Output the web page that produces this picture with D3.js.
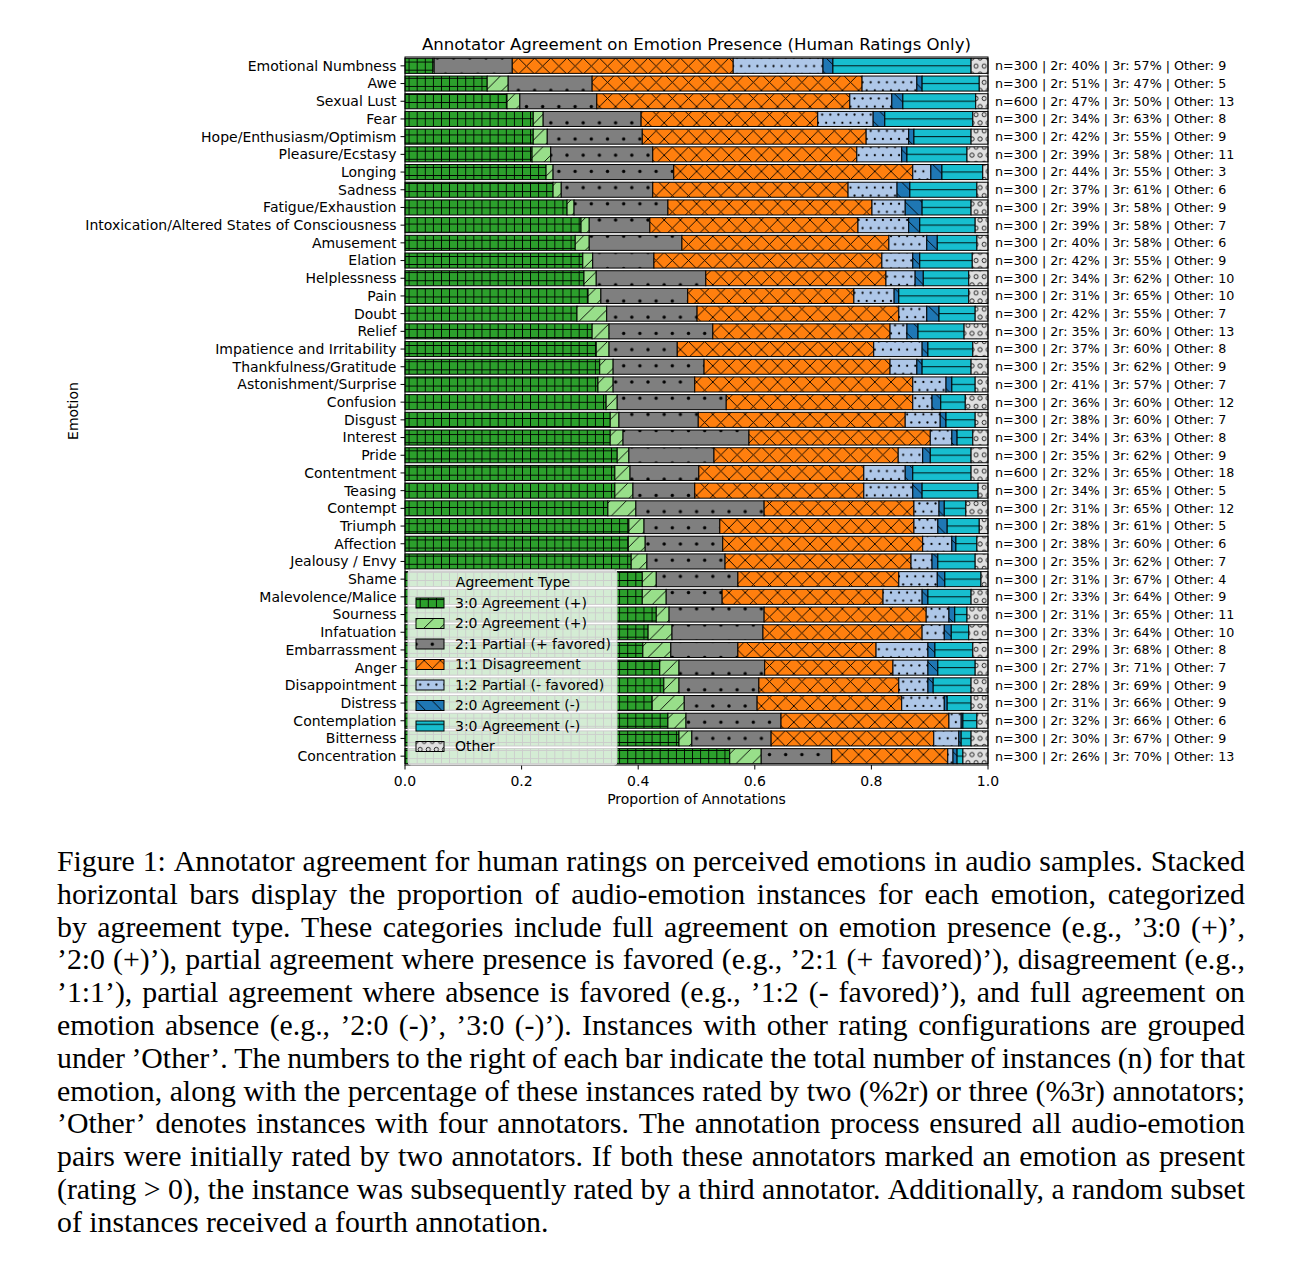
<!DOCTYPE html>
<html><head><meta charset="utf-8">
<script src="https://cdn.jsdelivr.net/npm/d3@7"></script>
<style>body{margin:0;background:#fff} svg{display:block}</style>
</head><body>
<svg id="chart" width="1301" height="1268"></svg>
<script>
const emotions = ["Emotional Numbness","Awe","Sexual Lust","Fear","Hope/Enthusiasm/Optimism","Pleasure/Ecstasy","Longing","Sadness","Fatigue/Exhaustion","Intoxication/Altered States of Consciousness","Amusement","Elation","Helplessness","Pain","Doubt","Relief","Impatience and Irritability","Thankfulness/Gratitude","Astonishment/Surprise","Confusion","Disgust","Interest","Pride","Contentment","Teasing","Contempt","Triumph","Affection","Jealousy / Envy","Shame","Malevolence/Malice","Sourness","Infatuation","Embarrassment","Anger","Disappointment","Distress","Contemplation","Bitterness","Concentration"];

const agreementTypes = ["3:0 Agreement (+)","2:0 Agreement (+)","2:1 Partial (+ favored)","1:1 Disagreement","1:2 Partial (- favored)","2:0 Agreement (-)","3:0 Agreement (-)","Other"];

const agree3Pos = [0.048,0.141,0.175,0.220,0.220,0.218,0.242,0.254,0.278,0.302,0.292,0.305,0.307,0.314,0.295,0.321,0.328,0.334,0.331,0.345,0.352,0.352,0.364,0.360,0.360,0.348,0.384,0.383,0.388,0.407,0.407,0.431,0.417,0.408,0.437,0.444,0.424,0.451,0.470,0.557];
const agree2Pos = [0.002,0.036,0.022,0.017,0.024,0.032,0.012,0.014,0.012,0.014,0.024,0.017,0.021,0.022,0.051,0.029,0.022,0.023,0.026,0.019,0.015,0.022,0.020,0.026,0.031,0.048,0.026,0.029,0.027,0.024,0.041,0.022,0.041,0.048,0.033,0.026,0.055,0.031,0.022,0.054];
const partialPos = [0.134,0.144,0.132,0.168,0.163,0.175,0.207,0.157,0.161,0.104,0.159,0.105,0.188,0.149,0.155,0.178,0.117,0.156,0.140,0.187,0.136,0.216,0.146,0.118,0.106,0.220,0.130,0.133,0.134,0.140,0.096,0.163,0.156,0.115,0.147,0.137,0.125,0.163,0.136,0.121];
const disagree = [0.379,0.463,0.434,0.303,0.384,0.350,0.410,0.335,0.350,0.357,0.355,0.391,0.309,0.285,0.346,0.304,0.337,0.319,0.374,0.320,0.355,0.311,0.316,0.283,0.290,0.257,0.333,0.343,0.319,0.276,0.276,0.278,0.273,0.237,0.220,0.240,0.248,0.288,0.279,0.199];
const partialNeg = [0.154,0.094,0.072,0.095,0.073,0.077,0.031,0.084,0.057,0.087,0.065,0.053,0.050,0.069,0.048,0.029,0.083,0.046,0.057,0.033,0.060,0.037,0.042,0.071,0.084,0.043,0.041,0.050,0.036,0.066,0.067,0.039,0.038,0.089,0.060,0.050,0.073,0.021,0.043,0.009];
const agree2Neg = [0.017,0.009,0.019,0.020,0.009,0.009,0.019,0.022,0.029,0.019,0.018,0.012,0.014,0.008,0.021,0.019,0.010,0.009,0.010,0.015,0.010,0.009,0.013,0.013,0.016,0.009,0.016,0.007,0.010,0.013,0.010,0.010,0.012,0.012,0.017,0.009,0.005,0.003,0.004,0.007];
const agree3Neg = [0.237,0.098,0.125,0.151,0.098,0.103,0.070,0.115,0.084,0.095,0.068,0.090,0.078,0.120,0.062,0.079,0.077,0.084,0.040,0.042,0.050,0.027,0.070,0.100,0.096,0.037,0.055,0.036,0.064,0.062,0.074,0.021,0.030,0.065,0.064,0.065,0.041,0.024,0.017,0.010];
const otherShare = [0.029,0.015,0.021,0.026,0.029,0.036,0.009,0.019,0.029,0.022,0.019,0.027,0.033,0.033,0.022,0.041,0.026,0.029,0.022,0.039,0.022,0.026,0.029,0.029,0.017,0.038,0.015,0.019,0.022,0.012,0.029,0.036,0.033,0.026,0.022,0.029,0.029,0.019,0.029,0.043];

const nTotal = [300,300,600,300,300,300,300,300,300,300,300,300,300,300,300,300,300,300,300,300,300,300,300,600,300,300,300,300,300,300,300,300,300,300,300,300,300,300,300,300];
const pct2r = [40,51,47,34,42,39,44,37,39,39,40,42,34,31,42,35,37,35,41,36,38,34,35,32,34,31,38,38,35,31,33,31,33,29,27,28,31,32,30,26];
const pct3r = [57,47,50,63,55,58,55,61,58,58,58,55,62,65,55,60,60,62,57,60,60,63,62,65,65,65,61,60,62,67,64,65,64,68,71,69,66,66,67,70];
const otherCount = [9,5,13,8,9,11,3,6,9,7,6,9,10,10,7,13,8,9,7,12,7,8,9,18,5,12,5,6,7,4,9,11,10,8,7,9,9,6,9,13];

const xTicks = [0,0.2,0.4,0.6,0.8,1.0];

const captionLines = [
"Figure 1: Annotator agreement for human ratings on perceived emotions in audio samples. Stacked",
"horizontal bars display the proportion of audio-emotion instances for each emotion, categorized",
"by agreement type. These categories include full agreement on emotion presence (e.g., ’3:0 (+)’,",
"’2:0 (+)’), partial agreement where presence is favored (e.g., ’2:1 (+ favored)’), disagreement (e.g.,",
"’1:1’), partial agreement where absence is favored (e.g., ’1:2 (- favored)’), and full agreement on",
"emotion absence (e.g., ’2:0 (-)’, ’3:0 (-)’). Instances with other rating configurations are grouped",
"under ’Other’. The numbers to the right of each bar indicate the total number of instances (n) for that",
"emotion, along with the percentage of these instances rated by two (%2r) or three (%3r) annotators;",
"’Other’ denotes instances with four annotators. The annotation process ensured all audio-emotion",
"pairs were initially rated by two annotators. If both these annotators marked an emotion as present",
"(rating > 0), the instance was subsequently rated by a third annotator. Additionally, a random subset",
"of instances received a fourth annotation."
];

// ---------- build ----------
const keys = ["a3p","a2p","pp","dis","pn","a2n","a3n","oth"];
const series = [agree3Pos,agree2Pos,partialPos,disagree,partialNeg,agree2Neg,agree3Neg,otherShare];
const table = emotions.map((e,i)=>{ const r={emotion:e}; keys.forEach((k,j)=>r[k]=series[j][i]); return r; });

const svg = d3.select("#chart");
const FONT = "'DejaVu Sans', sans-serif";
const TICK_FS = 14;
const pL=405, pR=988, pT=57, pB=765;
const x = d3.scaleLinear().domain([0,1]).range([pL,pR]);
const y = d3.scaleBand().domain(emotions).range([pT,pB]).paddingInner(0.15).paddingOuter(0.075);
const step = y.step();

// patterns
const defs = svg.append("defs");
const H = 16.2;
function pat(id,w,h,fill,ox,oy){
  const p = defs.append("pattern").attr("id",id).attr("patternUnits","userSpaceOnUse")
    .attr("x",ox).attr("y",oy).attr("width",w).attr("height",h);
  p.append("rect").attr("width",w).attr("height",h).attr("fill",fill);
  return p;
}
function hline(p,d){ p.append("path").attr("d",d).attr("stroke","#000").attr("stroke-width",0.9).attr("fill","none"); }
let p = pat("p_a3p",H/2,H/2,"#2ca02c",pL,58);
hline(p,`M${H/4},0V${H/2}M0,${H/4}H${H/2}`);
p = pat("p_a2p",H,H,"#98df8a",pL,58);
hline(p,`M0,${H}L${H},0M-4,4L4,-4M${H-4},${H+4}L${H+4},${H-4}`);
p = pat("p_pp",H,2*H,"#7f7f7f",pL,58);
[[0,0],[H,0],[0,2*H],[H,2*H],[H/2,H]].forEach(([cx,cy])=>p.append("circle").attr("cx",cx).attr("cy",cy).attr("r",1.7).attr("fill","#000"));
p = pat("p_dis",H,H,"#ff7f0e",pL,58);
hline(p,`M0,0L${H},${H}M0,${H}L${H},0M-4,4L4,-4M${H-4},${H+4}L${H+4},${H-4}M-4,${H-4}L4,${H+4}M${H-4},-4L${H+4},4`);
p = pat("p_pn",H/2,H,"#aec7e8",pL,58);
[[0,0],[H/2,0],[0,H],[H/2,H],[H/4,H/2]].forEach(([cx,cy])=>p.append("circle").attr("cx",cx).attr("cy",cy).attr("r",1.1).attr("fill","#000"));
p = pat("p_a2n",H,H,"#1f77b4",pL,58);
hline(p,`M0,0L${H},${H}M-4,${H-4}L4,${H+4}M${H-4},-4L${H+4},4`);
p = pat("p_a3n",H,step,"#17becf",pL,y(emotions[0]));
hline(p,`M0,${y.bandwidth()/2}H${H}`);
p = pat("p_oth",H/2,H,"#e0e0e0",pL,58);
[[0,0],[H/2,0],[0,H],[H/2,H],[H/4,H/2]].forEach(([cx,cy])=>p.append("circle").attr("cx",cx).attr("cy",cy).attr("r",2.1).attr("fill","none").attr("stroke","#000").attr("stroke-width",0.8));

// stacked bars
const stacked = d3.stack().keys(keys)(table);
const gBars = svg.append("g");
stacked.forEach((s,si)=>{
  gBars.append("g").attr("fill",`url(#p_${keys[si]})`).attr("stroke","#000").attr("stroke-width",1)
    .selectAll("rect").data(s).join("rect")
    .attr("x",d=>x(d[0])).attr("width",d=>Math.max(0,x(d[1])-x(d[0])))
    .attr("y",d=>y(d.data.emotion)).attr("height",y.bandwidth());
});

// spines
svg.append("rect").attr("x",pL).attr("y",pT).attr("width",pR-pL).attr("height",pB-pT)
  .attr("fill","none").attr("stroke","#000").attr("stroke-width",1);

// y axis
const gy = svg.append("g").attr("font-family",FONT).attr("font-size",TICK_FS);
emotions.forEach(e=>{
  const cy = y(e)+y.bandwidth()/2;
  gy.append("line").attr("x1",pL-4.5).attr("x2",pL).attr("y1",cy).attr("y2",cy).attr("stroke","#000");
  gy.append("text").attr("x",pL-8.5).attr("y",cy).attr("dy","0.35em").attr("text-anchor","end").text(e);
});
// x axis
const gx = svg.append("g").attr("font-family",FONT).attr("font-size",TICK_FS);
xTicks.forEach(t=>{
  gx.append("line").attr("x1",x(t)).attr("x2",x(t)).attr("y1",pB).attr("y2",pB+4.5).attr("stroke","#000");
  gx.append("text").attr("x",x(t)).attr("y",pB+20.5).attr("text-anchor","middle").text(d3.format(".1f")(t));
});
svg.append("text").attr("x",(pL+pR)/2).attr("y",804).attr("text-anchor","middle")
  .attr("font-family",FONT).attr("font-size",TICK_FS).text("Proportion of Annotations");
svg.append("text").attr("transform",`translate(78,${(pT+pB)/2}) rotate(-90)`).attr("text-anchor","middle")
  .attr("font-family",FONT).attr("font-size",TICK_FS).text("Emotion");
svg.append("text").attr("x",(pL+pR)/2).attr("y",50).attr("text-anchor","middle")
  .attr("font-family",FONT).attr("font-size",16.6).text("Annotator Agreement on Emotion Presence (Human Ratings Only)");

// annotations
const ga = svg.append("g").attr("font-family",FONT).attr("font-size",12.7);
emotions.forEach((e,i)=>{
  ga.append("text").attr("x",pR+7).attr("y",y(e)+y.bandwidth()/2).attr("dy","0.35em")
    .text(`n=${nTotal[i]} | 2r: ${pct2r[i]}% | 3r: ${pct3r[i]}% | Other: ${otherCount[i]}`);
});

// legend
const lg = svg.append("g").attr("transform","translate(408,570)").attr("font-family",FONT).attr("font-size",TICK_FS);
lg.append("rect").attr("width",209).attr("height",195).attr("rx",3).attr("fill","#fff").attr("fill-opacity",0.8).attr("stroke","#cccccc");
lg.append("text").attr("x",105).attr("y",12).attr("dy","0.35em").attr("text-anchor","middle").text("Agreement Type");
agreementTypes.forEach((t,i)=>{
  const cy = 33 + i*20.5;
  lg.append("rect").attr("x",8).attr("y",cy-5).attr("width",28).attr("height",10)
    .attr("fill",`url(#p_${keys[i]})`).attr("stroke","#000").attr("stroke-width",1);
  lg.append("text").attr("x",47).attr("y",cy).attr("dy","0.35em").text(t);
});

// caption
const capG = svg.append("g").attr("font-family","'Liberation Serif','Times New Roman',serif").attr("font-size",29.8).attr("fill","#000");
const capL=57, capR=1245;
captionLines.forEach((ln,i)=>{
  const yB = 871 + i*32.8;
  const t = capG.append("text").attr("y",yB);
  if(i===captionLines.length-1){ t.attr("x",capL).text(ln); return; }
  const words = ln.split(" ");
  const widths = words.map(w=>{ const tmp=capG.append("text").text(w); const wd=tmp.node().getComputedTextLength(); tmp.remove(); return wd; });
  const gap = (capR-capL-d3.sum(widths))/(words.length-1);
  let xx = capL;
  words.forEach((w,j)=>{ t.append("tspan").attr("x",xx).text(w); xx += widths[j]+gap; });
});
</script>
</body></html>
